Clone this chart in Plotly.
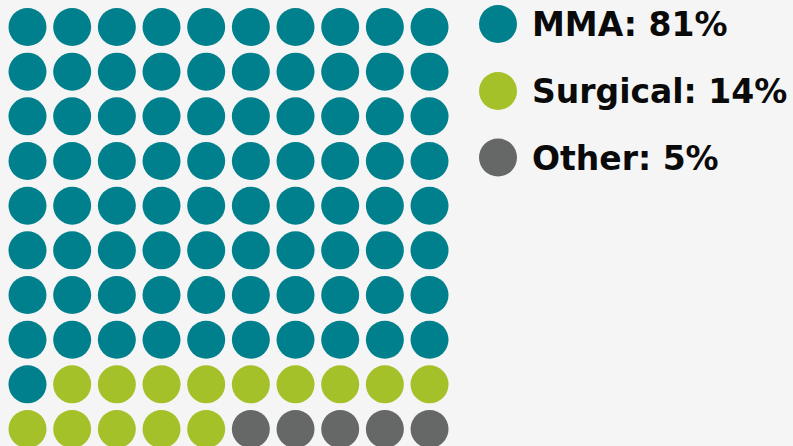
import plotly.graph_objects as go

categories = ["MMA", "Surgical", "Other"]
percents = [81, 14, 5]
colors = ["#00808C", "#A5C12A", "#666867"]
n_cols = 10
n_rows = 10

# build waffle cells (row-major, top-left first)
cell_cat = []
for cat_i, p in enumerate(percents):
    cell_cat += [cat_i] * p

W, H = 793, 446
step = 44.67
x0px, y0px = 27.5, 27.0

fig = go.Figure()
for ci, cat in enumerate(categories):
    xs, ys = [], []
    for k, c in enumerate(cell_cat):
        if c == ci:
            xs.append(k % n_cols)
            ys.append(k // n_cols)
    fig.add_trace(go.Scatter(x=xs, y=ys, mode="markers",
                             marker=dict(size=38, color=colors[ci], line=dict(width=0)),
                             hoverinfo="skip", showlegend=False))

# legend
leg_x = (498 - x0px) / step
leg_ys = [(24 - y0px) / step, (91 - y0px) / step, (157.5 - y0px) / step]
fig.add_trace(go.Scatter(x=[leg_x] * 3, y=leg_ys, mode="markers",
                         marker=dict(size=38, color=colors, line=dict(width=0)),
                         hoverinfo="skip", showlegend=False))
text_x = (530 - x0px) / step
for cat, p, ly in zip(categories, percents, leg_ys):
    fig.add_annotation(x=text_x, y=ly + 0.02, text=f"<b>{cat}: {p}%</b>",
                       showarrow=False, xanchor="left", yanchor="middle",
                       font=dict(family="DejaVu Sans", size=33, color="#0a0a0a"))

fig.update_xaxes(range=[-x0px / step, (W - x0px) / step], visible=False, fixedrange=True)
fig.update_yaxes(range=[(H - y0px) / step, -y0px / step], visible=False, fixedrange=True)
fig.update_layout(width=W, height=H, margin=dict(l=0, r=0, t=0, b=0),
                  paper_bgcolor="#F5F5F5", plot_bgcolor="#F5F5F5")
fig.write_html("out.html", config={"displayModeBar": False},
               post_script="document.body.style.margin='0';document.body.style.background='#F5F5F5';")
